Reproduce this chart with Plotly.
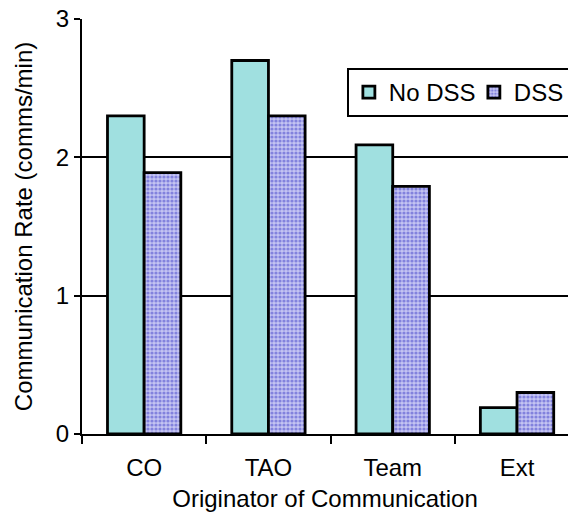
import plotly.graph_objects as go

categories = ["CO", "TAO", "Team", "Ext"]
no_dss = [2.3, 2.7, 2.09, 0.19]
dss = [1.89, 2.3, 1.79, 0.3]
y_ticks = [0, 1, 2, 3]

FONT = "Liberation Sans, Arial, sans-serif"

fig = go.Figure()
fig.add_trace(go.Bar(
    x=categories, y=no_dss, name="No DSS",
    marker=dict(color="#a0e0e0", line=dict(color="black", width=2.8)),
))
fig.add_trace(go.Bar(
    x=categories, y=dss, name="DSS",
    marker=dict(color="#7c7ce0", line=dict(color="black", width=2.8),
                pattern=dict(shape=".", fgcolor="#4040c8", bgcolor="#c4c4f2", size=4, solidity=0.5)),
))

fig.update_layout(
    width=568, height=512,
    margin=dict(l=82, r=0, t=19, b=78, autoexpand=False),
    paper_bgcolor="white", plot_bgcolor="white",
    barmode="group", bargap=0.41, bargroupgap=0,
    font=dict(family=FONT, size=24, color="black"),
    showlegend=True,
    legend=dict(
        orientation="h", x=0.545, y=0.882, xanchor="left", yanchor="top",
        bordercolor="black", borderwidth=2, bgcolor="white",
        font=dict(size=24, family=FONT), itemwidth=30, tracegroupgap=0,
        entrywidth=80, entrywidthmode="pixels",
    ),
    xaxis=dict(
        range=[-0.5, 3.41], showline=True, linecolor="black", linewidth=2,
        ticks="outside", ticklen=8, tickwidth=2, tickcolor="black",
        tickson="boundaries", showgrid=False, tickfont=dict(size=24, family=FONT),
        ticklabelstandoff=11,
        title=dict(text="Originator of Communication", standoff=12, font=dict(size=24, family=FONT)),
    ),
    yaxis=dict(
        range=[0, 3], tickvals=y_ticks, showline=True, linecolor="black", linewidth=2,
        ticks="outside", ticklen=6, tickwidth=2, tickcolor="black",
        showgrid=True, gridcolor="black", gridwidth=2, zeroline=False,
        tickfont=dict(size=24, family=FONT),
        title=dict(text="Communication Rate (comms/min)", standoff=16, font=dict(size=24, family=FONT)),
    ),
)

fig.write_html("out.html", config={"displayModeBar": False},
               post_script="document.body.style.margin='0';document.body.style.padding='0';")
